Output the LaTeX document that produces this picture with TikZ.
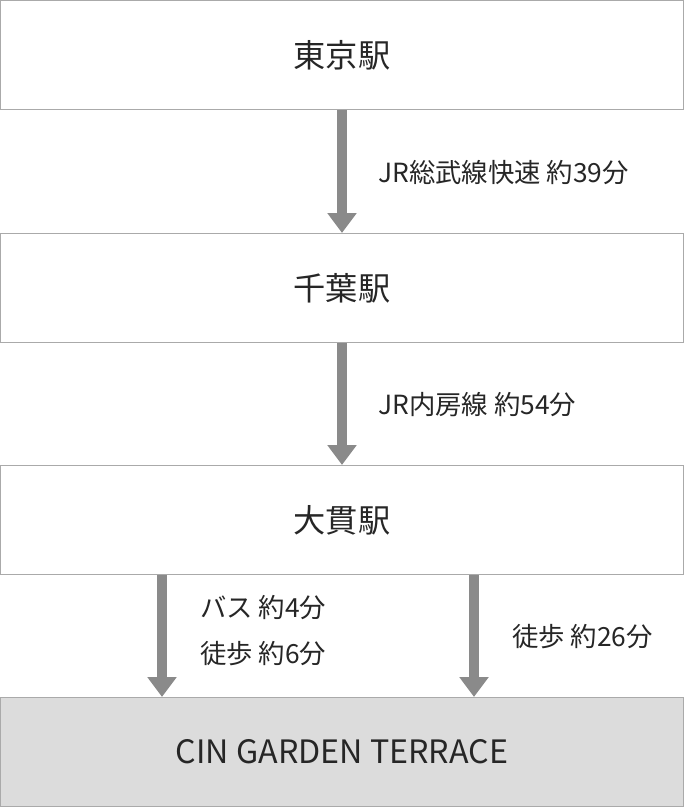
\documentclass[tikz,border=0pt]{standalone}
\usepackage{fontspec}
\setmainfont{Noto Sans CJK JP}
\usetikzlibrary{arrows.meta}
\definecolor{boxline}{HTML}{AAAAAA}
\definecolor{arrowgray}{HTML}{8A8A8A}
\definecolor{goalfill}{HTML}{DCDCDC}
\tikzset{
  station/.style={draw=boxline,line width=0.9pt,minimum width=683*0.03cm,minimum height=109*0.03cm,inner sep=0,font=\fontsize{27.5}{32}\selectfont,text=black!85},
  route/.style={arrowgray,line width=8.5pt,-{Triangle[width=24pt,length=17pt]}},
  time/.style={anchor=west,inner sep=0,font=\fontsize{22.5}{26}\selectfont,text=black!85}
}
\begin{document}
\begin{tikzpicture}[x=0.03cm,y=-0.03cm]

\useasboundingbox (0,0) rectangle (684,808);

\node[station] (tokyo) at (342,55) {東京駅};
\node[station] (chiba) at (342,288) {千葉駅};
\node[station] (onuki) at (342,520) {大貫駅};
\node[station,fill=goalfill] (garden) at (342,752) {CIN GARDEN TERRACE};

\draw[route] (tokyo.south) -- (chiba.north);
\node[time] (t1) at (378,173) {JR総武線快速 約39分};
\draw[route] (chiba.south) -- (onuki.north);
\node[time] (t2) at (378,405) {JR内房線 約54分};

\draw[route] (onuki.south -| 162,0) -- (garden.north -| 162,0);
\draw[route] (onuki.south -| 474,0) -- (garden.north -| 474,0);
\node[time] (bus) at (200,608) {バス 約4分};
\node[time] (walk) at (200,654) {徒歩 約6分};
\node[time] (walk2) at (512,637) {徒歩 約26分};

\end{tikzpicture}
\end{document}
